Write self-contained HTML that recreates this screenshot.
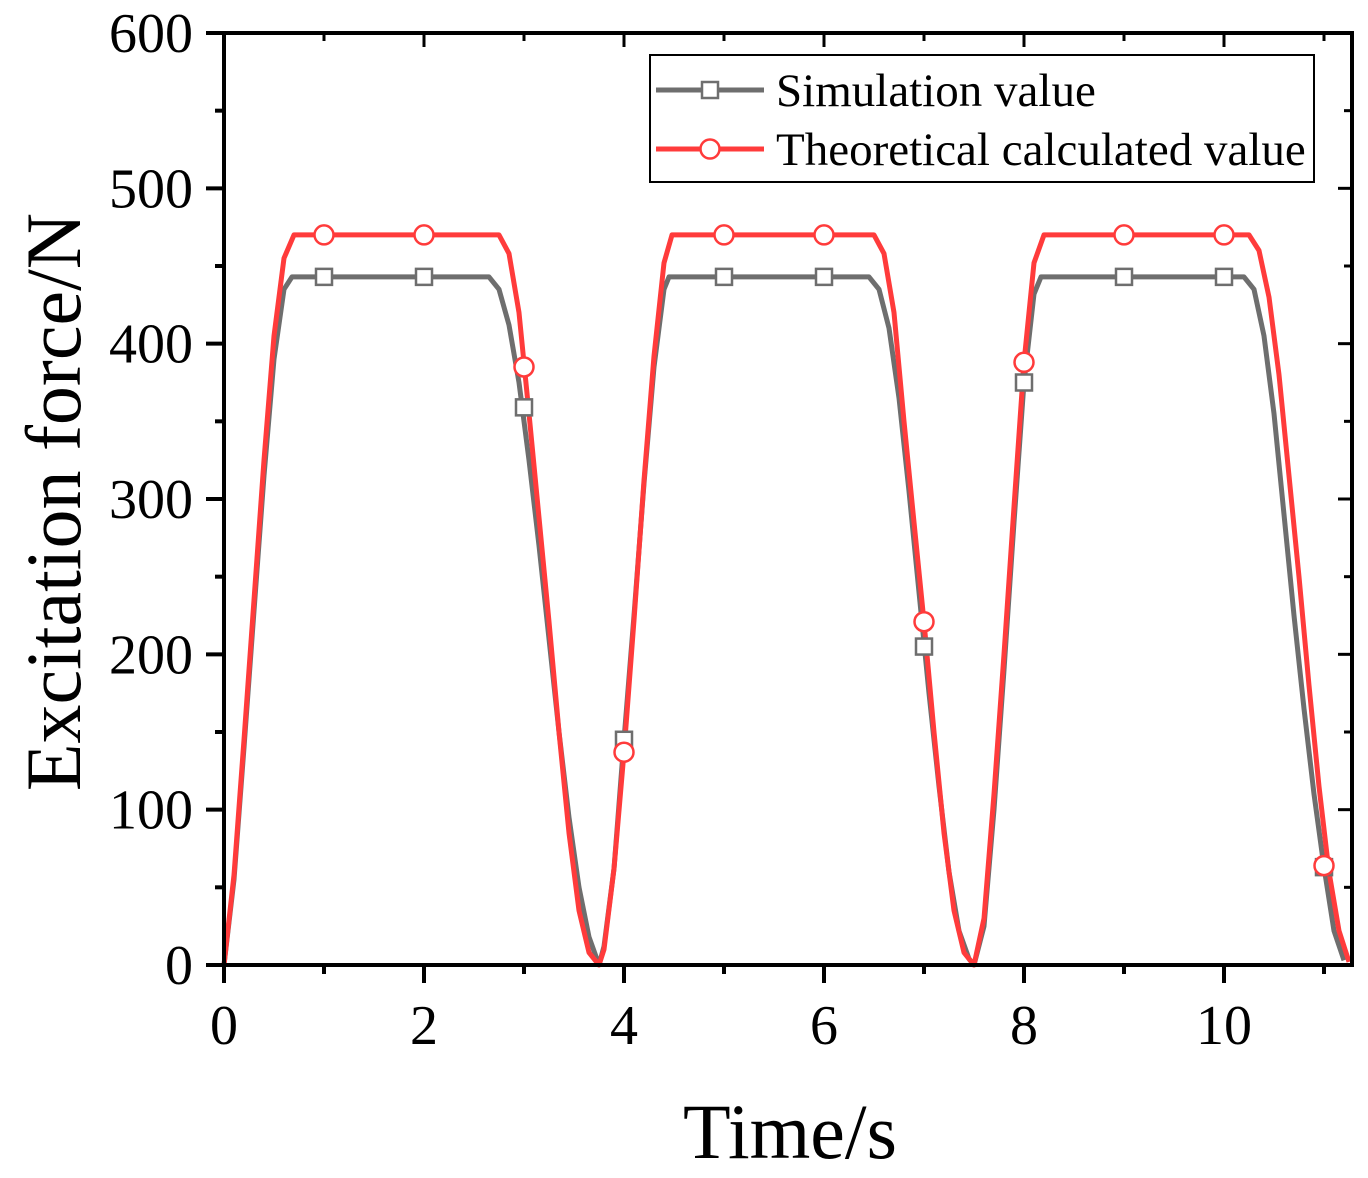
<!DOCTYPE html>
<html><head><meta charset="utf-8"><style>
body{margin:0;background:#fff;}
svg{display:block;font-family:"Liberation Serif",serif;}
</style></head><body>
<svg id="chart" width="1368" height="1178" viewBox="0 0 1368 1178">
<g id="plot"></g>
</svg>
<script>
const simTimes=[0,0.1,0.2,0.3,0.4,0.5,0.6,0.68,2.65,2.75,2.85,2.95,3.05,3.15,3.25,3.35,3.45,3.55,3.65,3.75,3.8,3.9,4.0,4.1,4.2,4.3,4.4,4.45,6.45,6.55,6.65,6.75,6.85,6.95,7.05,7.15,7.25,7.35,7.45,7.5,7.6,7.7,7.8,7.9,8.0,8.1,8.17,10.2,10.3,10.4,10.5,10.6,10.7,10.8,10.9,11.0,11.1,11.2];
const simValues=[0,55,140,228,315,390,435,443,443,435,412,375,325,270,210,150,95,50,18,0,12,62,145,225,310,385,435,443,443,435,410,365,305,240,175,115,60,22,4,0,25,100,190,285,375,432,443,443,435,405,355,290,225,165,110,63,22,3];
const theoTimes=[0,0.1,0.2,0.3,0.4,0.5,0.6,0.7,2.75,2.85,2.95,3.05,3.15,3.25,3.35,3.45,3.55,3.65,3.75,3.8,3.9,4.0,4.1,4.2,4.3,4.4,4.48,6.5,6.6,6.7,6.8,6.9,7.0,7.1,7.2,7.3,7.4,7.5,7.6,7.7,7.8,7.9,8.0,8.1,8.2,10.25,10.35,10.45,10.55,10.65,10.75,10.85,10.95,11.05,11.15,11.25];
const theoValues=[0,58,145,235,325,405,455,470,470,458,420,355,288,221,150,85,35,8,0,10,62,137,222,312,392,452,470,470,458,420,350,285,221,150,85,35,8,0,30,110,200,295,388,452,470,470,460,430,380,315,250,180,115,60,22,2];
const simMarkT=[1,2,3,4,5,6,7,8,9,10,11];
const simMarkV=[443,443,359,145,443,443,205,375,443,443,63];
const theoMarkT=[1,2,3,4,5,6,7,8,9,10,11];
const theoMarkV=[470,470,385,137,470,470,221,388,470,470,64];
const xTicks=[0,2,4,6,8,10];
const yTicks=[0,100,200,300,400,500,600];

const L=224,R=1352,T=33,B=965,XMAX=11.28,YMAX=600;
const xs=t=>L+t/XMAX*(R-L);
const ys=v=>B-v/YMAX*(B-T);
const NS="http://www.w3.org/2000/svg";
const g=document.getElementById('plot');
function mk(tag,attrs,parent){const e=document.createElementNS(NS,tag);for(const k in attrs)e.setAttribute(k,attrs[k]);(parent||g).appendChild(e);return e;}

function line(ts,vs,color,name){
  const d=ts.map((t,i)=>(i?'L':'M')+xs(t).toFixed(1)+','+ys(vs[i]).toFixed(1)).join('');
  const p=mk('path',{d:d,fill:'none',stroke:color,'stroke-width':5,'stroke-linejoin':'round'});
  
  
}
line(simTimes,simValues,'#6e6e6e','simulation-line');
line(theoTimes,theoValues,'#ff3b3b','theoretical-line');
simMarkT.forEach((t,i)=>{
  const r=mk('rect',{x:xs(t)-8,y:ys(simMarkV[i])-8,width:16,height:16,fill:'#fff',stroke:'#6e6e6e','stroke-width':2.5});
  
  
});
theoMarkT.forEach((t,i)=>{
  const c=mk('circle',{cx:xs(t),cy:ys(theoMarkV[i]),r:9.5,fill:'#fff',stroke:'#ff3b3b','stroke-width':2.5});
  
  
});

const fr=mk('rect',{x:L,y:T,width:R-L,height:B-T,fill:'none',stroke:'#000','stroke-width':4});



for(let t=0;t<=11;t++){
  const maj=t%2===0;
  mk('line',{x1:xs(t),x2:xs(t),y1:B,y2:B+(maj?18:9),stroke:'#000','stroke-width':4});
  mk('line',{x1:xs(t),x2:xs(t),y1:T,y2:T+(maj?14:8),stroke:'#000','stroke-width':3});
}
xTicks.forEach(t=>{
  const tx=mk('text',{x:xs(t),y:1044,'font-size':56,'text-anchor':'middle'});
  tx.textContent=t;
  
  
});
for(let v=0;v<=600;v+=50){
  const maj=v%100===0;
  mk('line',{x1:L,x2:L-(maj?18:9),y1:ys(v),y2:ys(v),stroke:'#000','stroke-width':4});
  mk('line',{x1:R,x2:R-(maj?14:8),y1:ys(v),y2:ys(v),stroke:'#000','stroke-width':3});
}
yTicks.forEach(v=>{
  const tx=mk('text',{x:193,y:ys(v)+19,'font-size':56,'text-anchor':'end'});
  tx.textContent=v;
  
  
});
const xt=mk('text',{x:790,y:1158,'font-size':78,'text-anchor':'middle'});
xt.textContent='Time/s';


const yt=mk('text',{x:0,y:0,'font-size':78,'text-anchor':'middle',transform:'translate(80,502) rotate(-90)'});
yt.textContent='Excitation force/N';



const lg=mk('g',{});


mk('rect',{x:650,y:55,width:664,height:127,fill:'#fff',stroke:'#000','stroke-width':2},lg);
mk('line',{x1:656,x2:764,y1:90,y2:90,stroke:'#6e6e6e','stroke-width':5},lg);
mk('rect',{x:702,y:82,width:16,height:16,fill:'#fff',stroke:'#6e6e6e','stroke-width':2.5},lg);
const t1=mk('text',{x:776,y:106,'font-size':47},lg);t1.textContent='Simulation value';


mk('line',{x1:656,x2:764,y1:149,y2:149,stroke:'#ff3b3b','stroke-width':5},lg);
mk('circle',{cx:710,cy:149,r:9.5,fill:'#fff',stroke:'#ff3b3b','stroke-width':2.5},lg);
const t2=mk('text',{x:776,y:165,'font-size':47},lg);t2.textContent='Theoretical calculated value';


</script>
</body></html>
